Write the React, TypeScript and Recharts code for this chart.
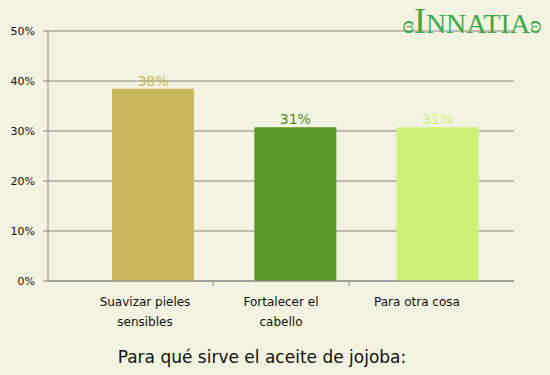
import { BarChart, Bar, XAxis, YAxis, CartesianGrid, Cell, LabelList } from 'recharts';

const categories = ['Suavizar pieles sensibles', 'Fortalecer el cabello', 'Para otra cosa'];
const labelLines = [['Suavizar pieles', 'sensibles'], ['Fortalecer el', 'cabello'], ['Para otra cosa']];
const values = [38.46, 30.77, 30.77];
const yTicks = [0, 10, 20, 30, 40, 50];

const COLORS = ['#c8b85c', '#5a9a26', '#cdf075'];
const LABEL_COLORS = ['#c8b85c', '#4e8d1f', '#d3f27e'];

const data = categories.map((name, i) => ({ name, value: values[i] }));

const CatTick = (props: any) => {
    const { x, y, payload, index } = props;
    const lines = labelLines[index] || [payload.value];
    const half = payload.offset || 68;
    return (
        <g>
            {index > 0 && <line x1={x - half} x2={x - half} y1={y - 8} y2={y - 3} stroke="#888" />}
            <text x={x} y={y + 17} textAnchor="middle" fontSize={12} fill="#111" fontFamily="DejaVu Sans">
                {lines.map((l: string, i: number) => (
                    <tspan key={i} x={x} dy={i === 0 ? 0 : 20}>{l}</tspan>
                ))}
            </text>
        </g>
    );
};

export default function App() {
    return (
        <div style={{ position: 'absolute', left: 0, top: 0, width: 550, height: 375, background: '#f3f3e2', fontFamily: 'DejaVu Sans', overflow: 'hidden' }}>
            <BarChart width={550} height={375} data={data} margin={{ top: 31, right: 36, left: 0, bottom: 44 }}>
                <CartesianGrid vertical={false} stroke="#858585" />
                <XAxis xAxisId="bars" dataKey="name" hide height={0} padding={{ left: 34, right: 5 }} />
                <XAxis
                    xAxisId="labels"
                    dataKey="name"
                    height={50}
                    padding={{ left: 29, right: 29 }}
                    axisLine={{ stroke: '#858585' }}
                    tickLine={false}
                    tick={<CatTick />}
                    interval={0}
                />
                <YAxis
                    width={48}
                    domain={[0, 50]}
                    ticks={yTicks}
                    tickFormatter={(v) => `${v}%`}
                    axisLine={{ stroke: '#858585' }}
                    tickLine={{ stroke: '#858585' }}
                    tickSize={5}
                    tickMargin={8}
                    tick={{ fontSize: 11, fill: '#111', fontFamily: 'DejaVu Sans' }}
                />
                <Bar xAxisId="bars" dataKey="value" barSize={82} isAnimationActive={false}>
                    {data.map((entry, index) => (
                        <Cell key={`cell-${index}`} fill={COLORS[index]} />
                    ))}
                    <LabelList
                        dataKey="value"
                        position="top"
                        offset={2}
                        content={(p: any) => (
                            <text
                                x={p.x + p.width / 2}
                                y={p.y - 3}
                                textAnchor="middle"
                                fontSize={14}
                                fontFamily="DejaVu Sans"
                                fill={LABEL_COLORS[p.index]}
                            >
                                {`${Math.round(p.value)}%`}
                            </text>
                        )}
                    />
                </Bar>
            </BarChart>
            <div style={{ position: 'absolute', left: 117, width: 290, top: 347, textAlign: 'center', fontSize: 17, color: '#111', fontFamily: 'DejaVu Sans', whiteSpace: 'nowrap' }}>
                Para qué sirve el aceite de jojoba:
            </div>
            <svg style={{ position: 'absolute', left: 396, top: 0 }} width={152} height={40}>
                <text x={76} y={33} textAnchor="middle" fill="#3fa84a" fontFamily="Liberation Serif">
                    <tspan fontSize={26}>ɞ</tspan>
                    <tspan fontSize={36}>I</tspan>
                    <tspan fontSize={28}>NNATIA</tspan>
                    <tspan fontSize={26}>ʚ</tspan>
                </text>
            </svg>
        </div>
    );
}
